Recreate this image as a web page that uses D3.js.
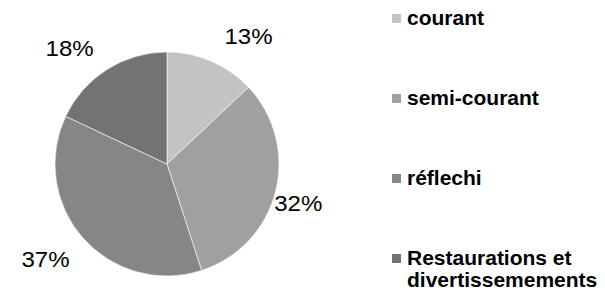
<!DOCTYPE html>
<html>
<head>
<meta charset="utf-8">
<script src="https://cdn.jsdelivr.net/npm/d3@7"></script>
<style>
  html, body { margin: 0; padding: 0; background: #fff; }
  svg { display: block; }
</style>
</head>
<body>
<svg id="chart" width="605" height="294"></svg>
<script>
// ---- data ----
const categories = ["courant", "semi-courant", "réflechi", "Restaurations et divertissemements"];
const legendLines = [["courant"], ["semi-courant"], ["réflechi"], ["Restaurations et", "divertissemements"]];
const values = [13, 32, 37, 18];
const labels = ["13%", "32%", "37%", "18%"];

// ---- layout / style ----
const colors = ["#c3c3c3", "#a0a0a0", "#868686", "#737373"];
const cx = 167, cy = 164, radius = 112;
const labelRadius = 150;
const labelNudge = [[22, 10], [-14, 2], [-9, -4], [-17, 11]];
const fontFamily = "'Liberation Sans', Arial, Helvetica, sans-serif";
const pctFont = 21.5, pctStretch = 1.12;

const svg = d3.select("#chart");

const pie = d3.pie().sort(null).value(d => d)(values);
const arc = d3.arc().innerRadius(0).outerRadius(radius);
const labelArc = d3.arc().innerRadius(labelRadius).outerRadius(labelRadius);

const g = svg.append("g").attr("transform", `translate(${cx},${cy})`);

g.selectAll("path.slice")
  .data(pie)
  .join("path")
  .attr("class", "slice")
  .attr("d", arc)
  .attr("fill", (d, i) => colors[i])
  .attr("stroke", "#ffffff")
  .attr("stroke-width", 0.6);

g.selectAll("text.pct")
  .data(pie)
  .join("text")
  .attr("class", "pct")
  .attr("transform", (d, i) => {
    const [x, y] = labelArc.centroid(d);
    return `translate(${x + labelNudge[i][0]},${y + labelNudge[i][1]}) scale(${pctStretch},1)`;
  })
  .attr("dy", "0.35em")
  .attr("text-anchor", "middle")
  .attr("font-family", fontFamily)
  .attr("font-size", pctFont)
  .attr("fill", "#000")
  .text((d, i) => labels[i]);

// ---- legend ----
const legendX = 392, legendY0 = 25, legendStep = 80, lineH = 22;
const leg = svg.append("g");
const items = leg.selectAll("g.item")
  .data(categories)
  .join("g")
  .attr("class", "item")
  .attr("transform", (d, i) => `translate(${legendX},${legendY0 + i * legendStep})`);

items.append("rect")
  .attr("x", 0)
  .attr("y", -11)
  .attr("width", 9)
  .attr("height", 9)
  .attr("fill", (d, i) => colors[i]);

items.append("text")
  .attr("x", 15)
  .attr("y", 0)
  .attr("font-family", fontFamily)
  .attr("font-weight", "bold")
  .attr("font-size", 21)
  .attr("fill", "#000")
  .selectAll("tspan")
  .data((d, i) => legendLines[i])
  .join("tspan")
  .attr("x", 15)
  .attr("dy", (d, j) => j === 0 ? 0 : lineH)
  .text(d => d);
</script>
</body>
</html>
